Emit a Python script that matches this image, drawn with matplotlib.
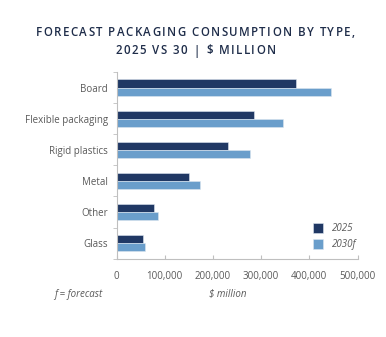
import numpy as np
import matplotlib.pyplot as plt
from matplotlib.ticker import FuncFormatter, FixedLocator

plt.rcParams['font.family'] = ['Open Sans', 'DejaVu Sans']

categories = ['Board', 'Flexible packaging', 'Rigid plastics', 'Metal', 'Other', 'Glass']
vals_2025 = [372000, 285000, 231000, 150000, 78000, 54000]
vals_2030 = [444000, 345000, 276000, 173000, 87000, 60000]
xticks = [0, 100000, 200000, 300000, 400000, 500000]
title_lines = ['FORECAST PACKAGING CONSUMPTION BY TYPE,', '2025 VS 30 | $ MILLION']

dark = '#203864'
light = '#6A9ECB'
grey = '#595959'
spine = '#BFBFBF'
title_col = '#1F2D4A'

W, H = 386, 337
fig = plt.figure(figsize=(W/100, H/100), dpi=100)
ax = fig.add_axes([116.5/W, 1-258.7/H, 241/W, 186.7/H])

y = np.arange(len(categories))[::-1].astype(float)
h = 0.26
ax.barh(y + h/2, vals_2025, height=h, color=dark, edgecolor='#DDE6F0', linewidth=0.4, label='2025')
ax.barh(y - h/2, vals_2030, height=h, color=light, edgecolor='#DDE6F0', linewidth=0.4, label='2030f')

ax.set_xlim(0, 500000)
ax.set_ylim(-0.5, len(categories) - 0.5)
ax.set_yticks(y)
ax.set_yticklabels(categories, fontsize=7, color=grey)
ax.tick_params(axis='y', length=0, pad=6)
ax.yaxis.set_minor_locator(FixedLocator(np.arange(-0.5, len(categories), 1)))
ax.tick_params(axis='y', which='minor', length=3, color=spine, direction='out')

ax.set_xticks(xticks)
ax.xaxis.set_major_formatter(FuncFormatter(lambda v, p: f'{int(v):,}'))
ax.tick_params(axis='x', labelsize=7, labelcolor=grey, length=3, color=spine, direction='in', pad=9)

for s in ['top', 'right']:
    ax.spines[s].set_visible(False)
for s in ['left', 'bottom']:
    ax.spines[s].set_color(spine)
    ax.spines[s].set_linewidth(0.8)

leg = ax.legend(loc='lower right', bbox_to_anchor=(1.03, 0.0), frameon=False,
                fontsize=7, handlelength=1.05, handleheight=1.2, handletextpad=0.9,
                labelspacing=0.5)
for t in leg.get_texts():
    t.set_color(grey)
    t.set_fontstyle('italic')

# letter-spaced title, placed char by char
renderer = fig.canvas.get_renderer()
track = 1.4
for line, yc in zip(title_lines, [32, 51]):
    widths = []
    for ch in line:
        t = fig.text(0, 0, ch if ch != ' ' else 'a', fontsize=8.3, fontweight='semibold')
        wd = t.get_window_extent(renderer).width
        if ch == ' ':
            wd *= 0.5
        widths.append(wd)
        t.remove()
    total = sum(widths) + track * (len(line) - 1)
    x = 195.5 - total/2
    for ch, wd in zip(line, widths):
        fig.text(x/W, 1-yc/H, ch, ha='left', va='center', fontsize=8.3,
                 color=title_col, fontweight='semibold')
        x += wd + track

fig.text(78/W, 1-294/H, 'f = forecast', ha='center', va='center', fontsize=7,
         color=grey, fontstyle='italic')
fig.text(228/W, 1-294/H, '$ million', ha='center', va='center', fontsize=7,
         color=grey, fontstyle='italic')

fig.savefig('out.png', dpi=100)
